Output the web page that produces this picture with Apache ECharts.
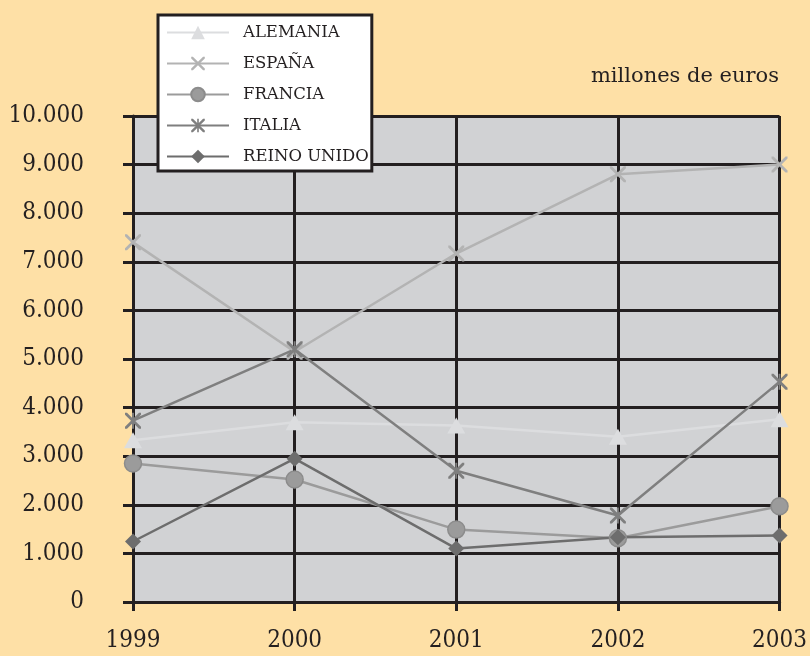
<!DOCTYPE html>
<html>
<head>
<meta charset="utf-8">
<script src="https://cdn.jsdelivr.net/npm/echarts@6/dist/echarts.min.js"></script>
<style>
html,body{margin:0;padding:0;background:#fee0a6;}
#chart{width:810px;height:656px;}
</style>
</head>
<body>
<div id="chart"></div>
<script>
var years = ['1999', '2000', '2001', '2002', '2003'];
var alemania = [3330, 3700, 3630, 3400, 3760];
var espana = [7400, 5150, 7170, 8800, 9000];
var francia = [2850, 2520, 1490, 1310, 1970];
var italia = [3730, 5200, 2700, 1780, 4530];
var reinoUnido = [1245, 2950, 1100, 1330, 1370];
var unitLabel = 'millones de euros';

var INK = '#231f20';
var X_PATH = 'path://M0,0 L2.5,0 L10,7.5 L17.5,0 L20,0 L20,2.5 L12.5,10 L20,17.5 L20,20 L17.5,20 L10,12.5 L2.5,20 L0,20 L0,17.5 L7.5,10 L0,2.5 Z';
var AST_PATH = 'path://M0,0 L2.5,0 L10,7.5 L17.5,0 L20,0 L20,2.5 L12.5,10 L20,17.5 L20,20 L17.5,20 L10,12.5 L2.5,20 L0,20 L0,17.5 L7.5,10 L0,2.5 Z M8.8,0 L11.2,0 L11.2,20 L8.8,20 Z';

function fmt(v) {
  return String(v).replace(/\B(?=(\d{3})+(?!\d))/g, '.');
}

function mk(name, data, color, symbol, size, extra) {
  return {
    name: name,
    type: 'line',
    data: data,
    symbol: symbol,
    symbolSize: size,
    showAllSymbol: true,
    lineStyle: { color: color, width: 2.5 },
    itemStyle: Object.assign({ color: color }, extra || {}),
    emphasis: { disabled: true },
    animation: false
  };
}

var chart = echarts.init(document.getElementById('chart'));
chart.setOption({
  backgroundColor: '#fee0a6',
  animation: false,
  title: {
    text: unitLabel,
    right: 26,
    top: 61,
    textStyle: { fontFamily: 'DejaVu Serif', fontSize: 21, fontWeight: 'normal', color: INK }
  },
  legend: {
    orient: 'vertical',
    left: 158,
    top: 15,
    itemWidth: 62,
    itemHeight: 17,
    itemGap: 14,
    padding: [9, 3, 6, 8],
    backgroundColor: '#ffffff',
    borderColor: INK,
    borderWidth: 3,
    borderRadius: 0,
    textStyle: { fontFamily: 'DejaVu Serif', fontSize: 16.5, color: INK, padding: [0, 0, 0, 9] },
    data: ['ALEMANIA', 'ESPAÑA', 'FRANCIA', 'ITALIA', 'REINO UNIDO']
  },
  grid: {
    left: 133,
    right: 29,
    top: 116,
    bottom: 54,
    show: true,
    backgroundColor: '#d1d2d4',
    borderWidth: 0
  },
  xAxis: {
    type: 'category',
    data: years,
    boundaryGap: false,
    axisLine: { lineStyle: { color: INK, width: 3 } },
    axisTick: { show: true, length: 9, lineStyle: { color: INK, width: 3 } },
    splitLine: { show: true, lineStyle: { color: INK, width: 3 } },
    axisLabel: {
      margin: 27,
      fontFamily: 'DejaVu Serif Condensed, DejaVu Serif',
      fontSize: 24,
      color: INK
    }
  },
  yAxis: {
    type: 'value',
    min: 0,
    max: 10000,
    interval: 1000,
    axisLine: { show: true, lineStyle: { color: INK, width: 3 } },
    axisTick: { show: true, length: 10, lineStyle: { color: INK, width: 3 } },
    splitLine: { show: true, lineStyle: { color: INK, width: 3 } },
    axisLabel: {
      margin: 49,
      fontFamily: 'DejaVu Serif Condensed, DejaVu Serif',
      fontSize: 24,
      color: INK,
      padding: [0, 0, 10, 0],
      formatter: fmt
    }
  },
  series: [
    mk('ALEMANIA', alemania, '#dcdddf', 'triangle', [18, 16]),
    mk('ESPAÑA', espana, '#b3b3b3', X_PATH, 16),
    mk('FRANCIA', francia, '#9b9b9b', 'circle', 17, { borderColor: '#8c8c8c', borderWidth: 1.5 }),
    mk('ITALIA', italia, '#7f7f7f', AST_PATH, 16),
    mk('REINO UNIDO', reinoUnido, '#6d6d6d', 'diamond', 16)
  ]
});
</script>
</body>
</html>
